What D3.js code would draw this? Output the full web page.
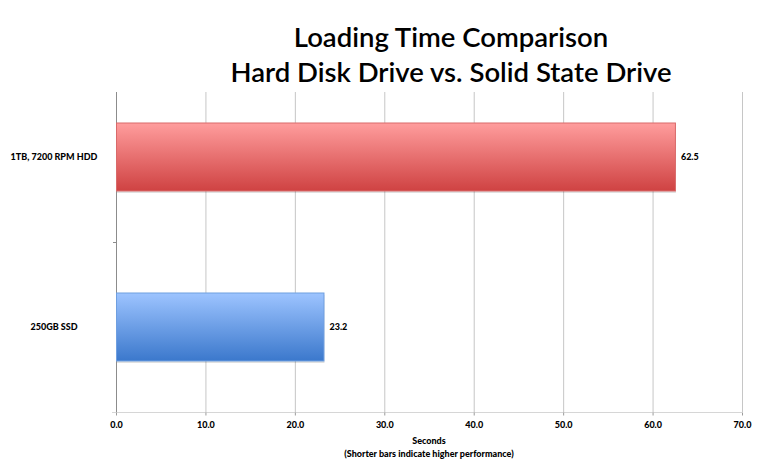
<!DOCTYPE html>
<html>
<head>
<meta charset="utf-8">
<script src="https://cdn.jsdelivr.net/npm/d3@7"></script>
<style>
  body { margin: 0; background: #fff; }
  text { font-family: Lato, "Open Sans", sans-serif; }
</style>
</head>
<body>
<div id="chart"></div>
<script>
// chart data
var categories = ["1TB, 7200 RPM HDD", "250GB SSD"];
var seconds = [62.5, 23.2];
var tickValues = [0, 10, 20, 30, 40, 50, 60, 70];
var titleLines = ["Loading Time Comparison", "Hard Disk Drive vs. Solid State Drive"];
var axisTitle = ["Seconds", "(Shorter bars indicate higher performance)"];

var width = 759, height = 466,
    margin = {top: 72, right: 17, bottom: 54, left: 116},
    gridTop = 92;

var svg = d3.select("#chart")
  .append("svg")
  .attr("width", width)
  .attr("height", height);

// gradients for the two bars
var defs = svg.append("defs");
var fills = [["#ff9d9d", "#cf4242", "hddGrad"], ["#9dc4ff", "#3b78cc", "ssdGrad"]];
fills.forEach(function(f) {
  var g = defs.append("linearGradient")
    .attr("id", f[2]).attr("x1", 0).attr("y1", 0).attr("x2", 0).attr("y2", 1);
  g.append("stop").attr("offset", "0%").attr("stop-color", f[0]);
  g.append("stop").attr("offset", "100%").attr("stop-color", f[1]);
});
var strokes = ["#d96a6a", "#6f9fe0"];

var x = d3.scaleLinear()
  .domain([0, 70])
  .range([margin.left, width - margin.right]);

var y = d3.scaleBand()
  .domain(categories)
  .range([margin.top, height - margin.bottom]);

var barH = y.bandwidth() * 0.4;

// vertical gridlines
svg.append("g")
  .selectAll("line")
  .data(tickValues.slice(1))
  .enter().append("line")
    .attr("x1", function(d) { return x(d) + 0.5; })
    .attr("x2", function(d) { return x(d) + 0.5; })
    .attr("y1", gridTop)
    .attr("y2", y.range()[1])
    .attr("stroke", "#c6c6c6")
    .attr("stroke-width", 1);

// x axis
var xAxis = svg.append("g")
  .attr("transform", "translate(0," + (y.range()[1] + 0.5) + ")")
  .call(d3.axisBottom(x).tickValues(tickValues).tickSize(3).tickSizeOuter(0)
    .tickFormat(d3.format(".1f")));
xAxis.select(".domain").attr("stroke", "#d6d6d6").attr("d", "M" + (x(0) - 4) + ",0H" + x(70));
xAxis.selectAll(".tick line").attr("stroke", "#9a9a9a");
xAxis.selectAll(".tick text")
  .attr("dy", "1.1em")
  .attr("font-size", 9)
  .attr("font-weight", 900)
  .attr("fill", "#000");

// y axis line and middle tick
svg.append("line")
  .attr("x1", x(0) + 0.5).attr("x2", x(0) + 0.5)
  .attr("y1", gridTop).attr("y2", y.range()[1])
  .attr("stroke", "#8c8c8c");
svg.append("line")
  .attr("x1", x(0) - 3).attr("x2", x(0))
  .attr("y1", y(categories[1]) + 0.5).attr("y2", y(categories[1]) + 0.5)
  .attr("stroke", "#8c8c8c");

// category labels
svg.append("g")
  .selectAll("text")
  .data(categories)
  .enter().append("text")
    .attr("x", 54)
    .attr("y", function(d) { return y(d) + y.bandwidth() / 2 + 1; })
    .attr("text-anchor", "middle")
    .attr("dominant-baseline", "middle")
    .attr("font-size", 9)
    .attr("font-weight", 900)
    .text(function(d) { return d; });

// bars
var bar = svg.append("g")
  .selectAll("g.bar")
  .data(seconds)
  .enter().append("g")
    .attr("class", "bar");

// soft shadow under each bar
bar.append("rect")
  .attr("x", x(0) + 1)
  .attr("y", function(d, i) { return y(categories[i]) + (y.bandwidth() - barH) / 2 + 2; })
  .attr("width", function(d) { return x(d) - x(0); })
  .attr("height", barH)
  .attr("fill", "#000")
  .attr("opacity", 0.12);

bar.append("rect")
  .attr("x", x(0) + 0.5)
  .attr("y", function(d, i) { return y(categories[i]) + (y.bandwidth() - barH) / 2; })
  .attr("width", function(d) { return x(d) - x(0); })
  .attr("height", barH)
  .attr("fill", function(d, i) { return "url(#" + fills[i][2] + ")"; })
  .attr("stroke", function(d, i) { return strokes[i]; })
  .attr("stroke-width", 1);

// value labels
bar.append("text")
  .attr("x", function(d) { return x(d) + 6; })
  .attr("y", function(d, i) { return y(categories[i]) + y.bandwidth() / 2 + 1; })
  .attr("dominant-baseline", "middle")
  .attr("font-size", 9)
  .attr("font-weight", 900)
  .text(function(d) { return d.toFixed(1); });

// title
svg.append("g")
  .selectAll("text")
  .data(titleLines)
  .enter().append("text")
    .attr("x", 451)
    .attr("y", function(d, i) { return 47 + i * 35; })
    .attr("text-anchor", "middle")
    .attr("font-size", 27.5)
    .attr("font-weight", 600)
    .text(function(d) { return d; });

// axis title
svg.append("g")
  .selectAll("text")
  .data(axisTitle)
  .enter().append("text")
    .attr("x", x(35))
    .attr("y", function(d, i) { return 444 + i * 13; })
    .attr("text-anchor", "middle")
    .attr("font-size", 9)
    .attr("font-weight", 900)
    .text(function(d) { return d; });
</script>
</body>
</html>
